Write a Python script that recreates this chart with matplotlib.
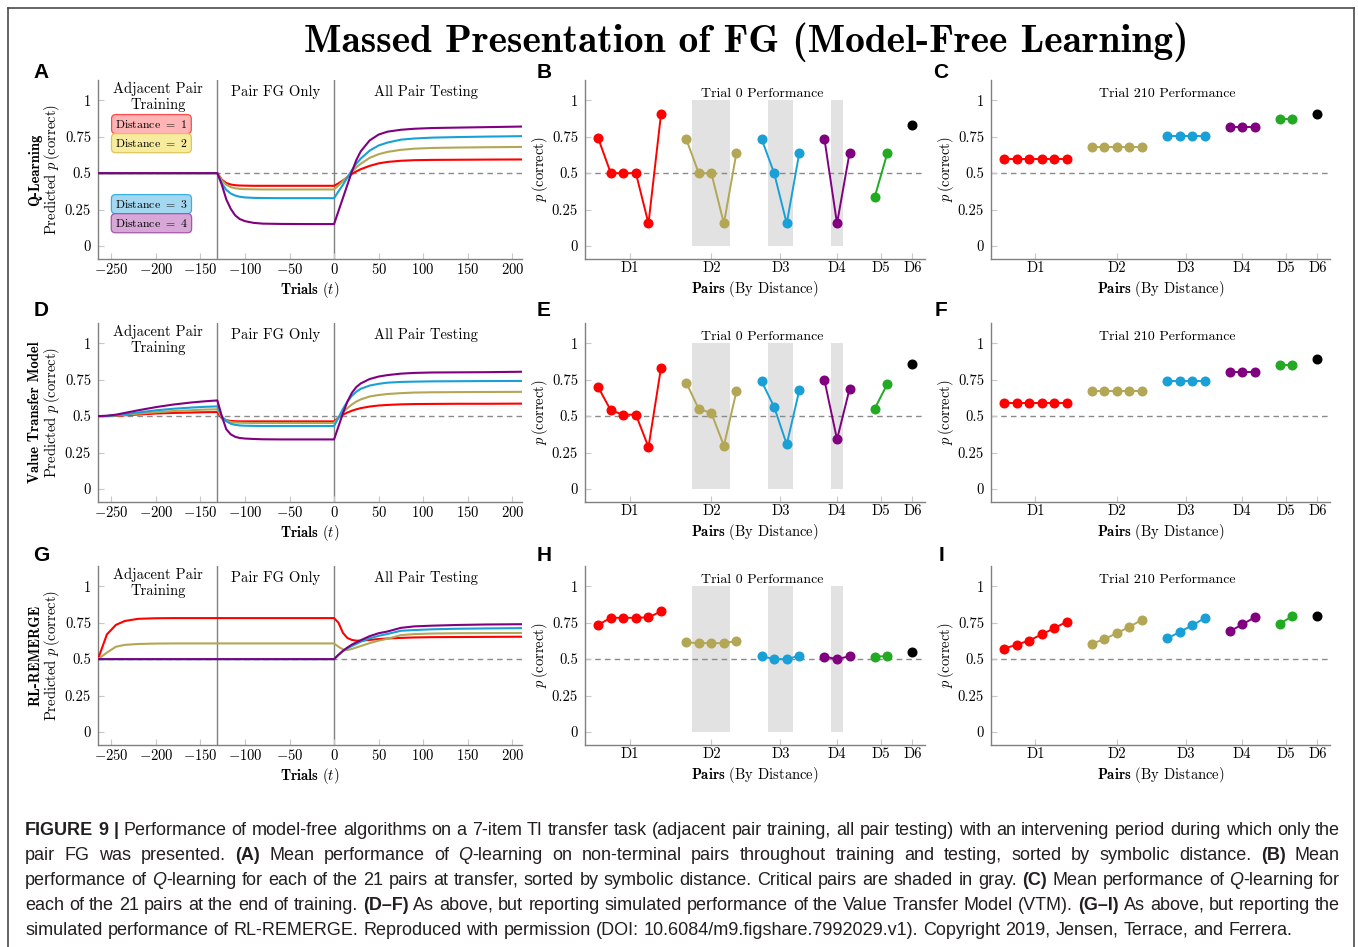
import matplotlib

matplotlib.use("Agg")
import matplotlib.pyplot as plt
from matplotlib.patches import Rectangle
from matplotlib.lines import Line2D

plt.rcParams["font.family"] = "serif"
plt.rcParams["font.serif"] = ["cmr10"]
plt.rcParams["mathtext.fontset"] = "cm"
plt.rcParams["axes.formatter.use_mathtext"] = True

# ---------------------------------------------------------------- data

## trial sample points used for the learning curves
TRIALS = [-265, -255, -245, -235, -220, -200, -180, -160, -145, -131,
          -126, -121, -116, -111, -106, -100, -90, -80, -60, -30, 0,
          5, 10, 15, 20, 25, 30, 40, 50, 60, 75, 90, 110, 140, 170, 210]
PHASE_SWITCH = [-131, 0]

## Q-learning, distance 1..4
QL_D1 = [0.5] * 10 + [0.455, 0.432, 0.422, 0.417, 0.415, 0.414, 0.413, 0.413, 0.413, 0.413, 0.413,
                      0.43, 0.45, 0.473, 0.495, 0.512, 0.527, 0.55, 0.567, 0.577, 0.585, 0.589, 0.591, 0.592, 0.593, 0.594]
QL_D2 = [0.5] * 10 + [0.45, 0.42, 0.404, 0.396, 0.392, 0.39, 0.389, 0.388, 0.388, 0.388, 0.388,
                      0.415, 0.445, 0.475, 0.51, 0.54, 0.565, 0.605, 0.63, 0.646, 0.66, 0.668, 0.673, 0.676, 0.678, 0.68]
QL_D3 = [0.5] * 10 + [0.43, 0.385, 0.36, 0.346, 0.338, 0.333, 0.33, 0.329, 0.328, 0.328, 0.328,
                      0.375, 0.42, 0.47, 0.52, 0.565, 0.6, 0.655, 0.69, 0.71, 0.73, 0.738, 0.744, 0.748, 0.751, 0.754]
QL_D4 = [0.5] * 10 + [0.42, 0.32, 0.255, 0.21, 0.185, 0.17, 0.158, 0.153, 0.151, 0.15, 0.15,
                      0.24, 0.33, 0.42, 0.51, 0.59, 0.65, 0.725, 0.765, 0.785, 0.798, 0.805, 0.81, 0.813, 0.816, 0.82]

## Value Transfer Model
VTM_D1 = [0.5, 0.5, 0.502, 0.506, 0.511, 0.518, 0.522, 0.525, 0.527, 0.528,
          0.485, 0.472, 0.467, 0.465, 0.464, 0.464, 0.464, 0.464, 0.464, 0.464, 0.464,
          0.49, 0.51, 0.525, 0.537, 0.547, 0.555, 0.566, 0.573, 0.577, 0.581, 0.583, 0.584, 0.585, 0.585, 0.586]
VTM_D2 = [0.5, 0.5, 0.504, 0.509, 0.517, 0.527, 0.535, 0.541, 0.545, 0.547,
          0.49, 0.47, 0.46, 0.456, 0.455, 0.454, 0.453, 0.453, 0.453, 0.453, 0.453,
          0.49, 0.525, 0.555, 0.58, 0.6, 0.615, 0.635, 0.645, 0.652, 0.658, 0.662, 0.664, 0.665, 0.666, 0.667]
VTM_D3 = [0.5, 0.501, 0.506, 0.513, 0.525, 0.54, 0.551, 0.559, 0.564, 0.567,
          0.5, 0.465, 0.448, 0.44, 0.436, 0.434, 0.433, 0.432, 0.432, 0.432, 0.432,
          0.49, 0.55, 0.6, 0.64, 0.668, 0.688, 0.71, 0.722, 0.73, 0.735, 0.737, 0.739, 0.74, 0.741, 0.742]
VTM_D4 = [0.5, 0.503, 0.51, 0.522, 0.54, 0.562, 0.58, 0.594, 0.602, 0.608,
          0.5, 0.41, 0.375, 0.358, 0.35, 0.346, 0.343, 0.341, 0.34, 0.34, 0.34,
          0.43, 0.52, 0.6, 0.66, 0.7, 0.725, 0.755, 0.772, 0.782, 0.792, 0.797, 0.8, 0.801, 0.802, 0.805]

## RL-REMERGE
REM_D1 = [0.5, 0.67, 0.735, 0.762, 0.777, 0.781, 0.782, 0.782, 0.782, 0.782,
          0.782, 0.782, 0.782, 0.782, 0.782, 0.782, 0.782, 0.782, 0.782, 0.782, 0.782,
          0.75, 0.68, 0.645, 0.632, 0.627, 0.627, 0.632, 0.638, 0.642, 0.646, 0.649, 0.651, 0.652, 0.653, 0.654]
REM_D2 = [0.5, 0.545, 0.585, 0.598, 0.604, 0.607, 0.608, 0.608, 0.608, 0.608,
          0.608, 0.608, 0.608, 0.608, 0.608, 0.608, 0.608, 0.608, 0.608, 0.608, 0.608,
          0.585, 0.567, 0.563, 0.57, 0.58, 0.59, 0.61, 0.627, 0.64, 0.665, 0.672, 0.676, 0.678, 0.679, 0.68]
REM_D3 = [0.5] * 21 + [0.53, 0.555, 0.575, 0.59, 0.605, 0.62, 0.643, 0.66, 0.673, 0.695, 0.7, 0.705, 0.709, 0.711, 0.713]
REM_D4 = [0.5] * 21 + [0.53, 0.557, 0.58, 0.6, 0.615, 0.63, 0.658, 0.678, 0.69, 0.715, 0.725, 0.73, 0.735, 0.738, 0.74]

## per-pair performance, grouped by symbolic distance D1..D6
QL_TRIAL0 = [[0.74, 0.5, 0.5, 0.5, 0.154, 0.908], [0.735, 0.5, 0.5, 0.154, 0.64],
             [0.735, 0.5, 0.154, 0.64], [0.735, 0.154, 0.64], [0.336, 0.637], [0.832]]
QL_TRIAL210 = [[0.595] * 6, [0.68] * 5, [0.754] * 4, [0.818] * 3, [0.869] * 2, [0.908]]
VTM_TRIAL0 = [[0.699, 0.54, 0.51, 0.51, 0.287, 0.834], [0.731, 0.549, 0.522, 0.297, 0.671],
              [0.74, 0.563, 0.306, 0.678], [0.747, 0.34, 0.687], [0.552, 0.72], [0.857]]
VTM_TRIAL210 = [[0.587] * 6, [0.67] * 5, [0.741] * 4, [0.803] * 3, [0.853] * 2, [0.89]]
REM_TRIAL0 = [[0.736, 0.784, 0.784, 0.784, 0.787, 0.828], [0.615, 0.61, 0.61, 0.61, 0.624],
              [0.52, 0.5, 0.5, 0.523], [0.518, 0.5, 0.52], [0.518, 0.52], [0.55]]
REM_TRIAL210 = [[0.573, 0.599, 0.628, 0.67, 0.713, 0.757], [0.605, 0.638, 0.679, 0.722, 0.771],
                [0.642, 0.686, 0.732, 0.782], [0.69, 0.739, 0.787], [0.743, 0.796], [0.798]]
CRITICAL = [[], [1, 2, 3], [1, 2], [1], [], []]

GROUP_LABELS = ["D1", "D2", "D3", "D4", "D5", "D6"]
LINE_XTICKS = [-250, -200, -150, -100, -50, 0, 50, 100, 150, 200]
Y_TICKS = [0, 0.25, 0.5, 0.75, 1]
Y_TICK_LABELS = ["0", "0.25", "0.5", "0.75", "1"]
MODEL_NAMES = ["Q-Learning", "Value Transfer Model", "RL-REMERGE"]
LEGEND_LABELS = ["Distance $=$ 1", "Distance $=$ 2", "Distance $=$ 3", "Distance $=$ 4"]

CAPTION_LINES = [
    [("FIGURE 9 |", "bold"),
     (" Performance of model-free algorithms on a 7-item TI transfer task (adjacent pair training, all pair testing)"
      " with an intervening period during which only the", "normal")],
    [("pair FG was presented. ", "normal"), ("(A)", "bold"), (" Mean performance of ", "normal"), ("Q", "italic"),
     ("-learning on non-terminal pairs throughout training and testing, sorted by symbolic distance. ", "normal"),
     ("(B)", "bold"), (" Mean", "normal")],
    [("performance of ", "normal"), ("Q", "italic"),
     ("-learning for each of the 21 pairs at transfer, sorted by symbolic distance. Critical pairs are shaded in gray. ",
      "normal"), ("(C)", "bold"), (" Mean performance of ", "normal"), ("Q", "italic"), ("-learning for", "normal")],
    [("each of the 21 pairs at the end of training. ", "normal"), ("(D\u2013F)", "bold"),
     (" As above, but reporting simulated performance of the Value Transfer Model (VTM). ", "normal"),
     ("(G\u2013I)", "bold"), (" As above, but reporting the", "normal")],
    [("simulated performance of RL-REMERGE. Reproduced with permission (DOI: 10.6084/m9.figshare.7992029.v1)."
      " Copyright 2019, Jensen, Terrace, and Ferrera.", "normal")],
]

# ---------------------------------------------------------------- style

COLORS = ["#ff0000", "#b3a655", "#18a0d7", "#800080", "#22aa22", "#000000"]
BOX_FACE = ["#ffb5b5", "#f7ec9e", "#a3d8f0", "#d7a8d7"]
BOX_EDGE = ["#ff4a4a", "#dcc65a", "#3ab0e0", "#a656aa"]
SPINE = "#808080"
TICK = "#c8c8c8"
SHADE = "#e2e2e2"
CAPTION_FONT = ["Liberation Sans Narrow", "Liberation Sans"]
CAPTION_COLOR = "#231f20"

FIG_W, FIG_H = 1358, 947
COLS = [(98, 522), (585, 925), (991, 1330)]
ROWS = [(80, 259), (323, 502), (566, 745)]
FS = 10.5

fig = plt.figure(figsize=(FIG_W / 100, FIG_H / 100), dpi=100)


def fx(px):
    return px / FIG_W


def fy(py):
    return 1 - py / FIG_H


def make_axes(col, row):
    left, right = COLS[col]
    top, bottom = ROWS[row]
    ax = fig.add_axes([fx(left), fy(bottom), (right - left) / FIG_W, (bottom - top) / FIG_H])
    for side in ("top", "right"):
        ax.spines[side].set_visible(False)
    for side in ("left", "bottom"):
        ax.spines[side].set_color(SPINE)
        ax.spines[side].set_linewidth(1.0)
    ax.tick_params(direction="in", length=4, width=0.8, color=TICK, labelsize=FS)
    ax.tick_params(axis="x", pad=2)
    ax.tick_params(axis="y", pad=5)
    ax.set_ylim(-0.09, 1.14)
    ax.set_yticks(Y_TICKS)
    ax.set_yticklabels(Y_TICK_LABELS)
    ax.axhline(0.5, color="#8a8a8a", lw=1.0, dashes=(4, 3), zorder=1)
    return ax


def draw_curves(ax, series, with_legend):
    ax.set_xlim(-265, 211)
    for xv in PHASE_SWITCH:
        ax.axvline(xv, color=SPINE, lw=1.0, zorder=1)
    for idx, values in enumerate(series):
        ax.plot(TRIALS, values, color=COLORS[idx], lw=1.5, zorder=3 + idx)
    ax.set_xticks(LINE_XTICKS)
    ax.set_xticklabels([f"${v}$" for v in LINE_XTICKS])
    ax.set_xlabel(r"$\mathbf{Trials}$ $(t)$", fontsize=FS, labelpad=2.5)
    ax.text(-198, 1.024, "Adjacent Pair\nTraining", ha="center", va="center", fontsize=FS, linespacing=1.15)
    ax.text(-66, 1.058, "Pair FG Only", ha="center", va="center", fontsize=FS)
    ax.text(103, 1.058, "All Pair Testing", ha="center", va="center", fontsize=FS)
    if with_legend:
        for idx, (label, ypos) in enumerate(zip(LEGEND_LABELS, [0.837, 0.706, 0.287, 0.156])):
            ax.text(-205, ypos, label, ha="center", va="center", fontsize=8.5, zorder=10,
                    bbox=dict(boxstyle="round,pad=0.3,rounding_size=0.35", fc=BOX_FACE[idx], ec=BOX_EDGE[idx], lw=0.9))


def draw_pairs(ax, groups, title, shade):
    offset = 0
    centers = []
    for gidx, values in enumerate(groups):
        xs = [offset + k for k in range(len(values))]
        centers.append(sum(xs) / len(xs))
        if shade and CRITICAL[gidx]:
            first = xs[CRITICAL[gidx][0]]
            last = xs[CRITICAL[gidx][-1]]
            ax.add_patch(Rectangle((first - 0.5, 0), last - first + 1, 1, fc=SHADE, ec="none", zorder=0))
        ax.plot(xs, values, color=COLORS[gidx], lw=1.4, marker="o", ms=6.2, zorder=4)
        offset += len(values) + 1
    ax.set_xlim(-1.05, offset - 1)
    ax.set_xticks(centers)
    ax.set_xticklabels(GROUP_LABELS)
    ax.set_xlabel(r"$\mathbf{Pairs}$ (By Distance)", fontsize=FS, labelpad=2.5)
    ax.text(13.05, 1.045, title, ha="center", va="center", fontsize=10)


MODEL_CURVES = [[QL_D1, QL_D2, QL_D3, QL_D4], [VTM_D1, VTM_D2, VTM_D3, VTM_D4], [REM_D1, REM_D2, REM_D3, REM_D4]]
MODEL_TRIAL0 = [QL_TRIAL0, VTM_TRIAL0, REM_TRIAL0]
MODEL_TRIAL210 = [QL_TRIAL210, VTM_TRIAL210, REM_TRIAL210]
LETTERS = ["ABC", "DEF", "GHI"]
LETTER_X = [41, 544, 941]
LETTER_Y = [72, 310, 555]

for row in range(3):
    top, bottom = ROWS[row]
    ymid = fy((top + bottom) / 2)

    ax = make_axes(0, row)
    draw_curves(ax, MODEL_CURVES[row], row == 0)
    fig.text(fx(35), ymid, MODEL_NAMES[row], rotation=90, ha="center", va="center", fontsize=FS, family="cmb10")
    fig.text(fx(52), ymid, r"Predicted $p\,$(correct)", rotation=90, ha="center", va="center", fontsize=FS)

    ax = make_axes(1, row)
    draw_pairs(ax, MODEL_TRIAL0[row], "Trial 0 Performance", True)
    fig.text(fx(540), ymid, r"$p\,$(correct)", rotation=90, ha="center", va="center", fontsize=FS)

    ax = make_axes(2, row)
    draw_pairs(ax, MODEL_TRIAL210[row], "Trial 210 Performance", False)
    fig.text(fx(946), ymid, r"$p\,$(correct)", rotation=90, ha="center", va="center", fontsize=FS)

    for col in range(3):
        fig.text(fx(LETTER_X[col]), fy(LETTER_Y[row]), LETTERS[row][col], ha="center", va="center",
                 fontsize=15, fontweight="bold", family="Liberation Sans")

fig.text(fx(746), fy(42), "Massed Presentation of FG (Model-Free Learning)", ha="center", va="center",
         fontsize=28.4, family="cmb10")

## figure frame
frame_kw = dict(color="#4a4a4a", lw=1.2, transform=fig.transFigure)
fig.add_artist(Line2D([fx(8), fx(8)], [fy(8), 0], **frame_kw))
fig.add_artist(Line2D([fx(8), fx(1354)], [fy(8), fy(8)], **frame_kw))
fig.add_artist(Line2D([fx(1354), fx(1354)], [fy(8), 0], **frame_kw))


# ---------------------------------------------------------------- caption

def split_words(runs):
    words = []
    current = []
    for text, style in runs:
        for k, part in enumerate(text.split(" ")):
            if k > 0 and current:
                words.append(current)
                current = []
            if part:
                current.append((part, style))
    if current:
        words.append(current)
    return words


def caption_text(piece, style, size, ypos):
    return fig.text(0, ypos, piece, fontsize=size, family=CAPTION_FONT, color=CAPTION_COLOR,
                    fontweight="bold" if style == "bold" else "normal",
                    fontstyle="italic" if style == "italic" else "normal", ha="left", va="center")


def draw_caption(x_left, x_right, y_first, line_step, size):
    renderer = fig.canvas.get_renderer()
    probe = caption_text("a a", "normal", size, 0)
    probe2 = caption_text("aa", "normal", size, 0)
    space = probe.get_window_extent(renderer).width - probe2.get_window_extent(renderer).width
    probe.remove()
    probe2.remove()
    for lidx, runs in enumerate(CAPTION_LINES):
        ypos = fy(y_first + lidx * line_step)
        placed = []
        total = 0
        for word in split_words(runs):
            items = []
            for piece, style in word:
                art = caption_text(piece, style, size, ypos)
                width = art.get_window_extent(renderer).width
                items.append((art, width))
                total += width
            placed.append(items)
        gap = space
        if lidx < len(CAPTION_LINES) - 1 and len(placed) > 1:
            gap = max((x_right - x_left - total) / (len(placed) - 1), space * 0.6)
        xpos = x_left
        for items in placed:
            for art, width in items:
                art.set_x(fx(xpos))
                xpos += width
            xpos += gap


draw_caption(25, 1340, 830, 25, 13.0)

fig.savefig("out.png", dpi=100)
